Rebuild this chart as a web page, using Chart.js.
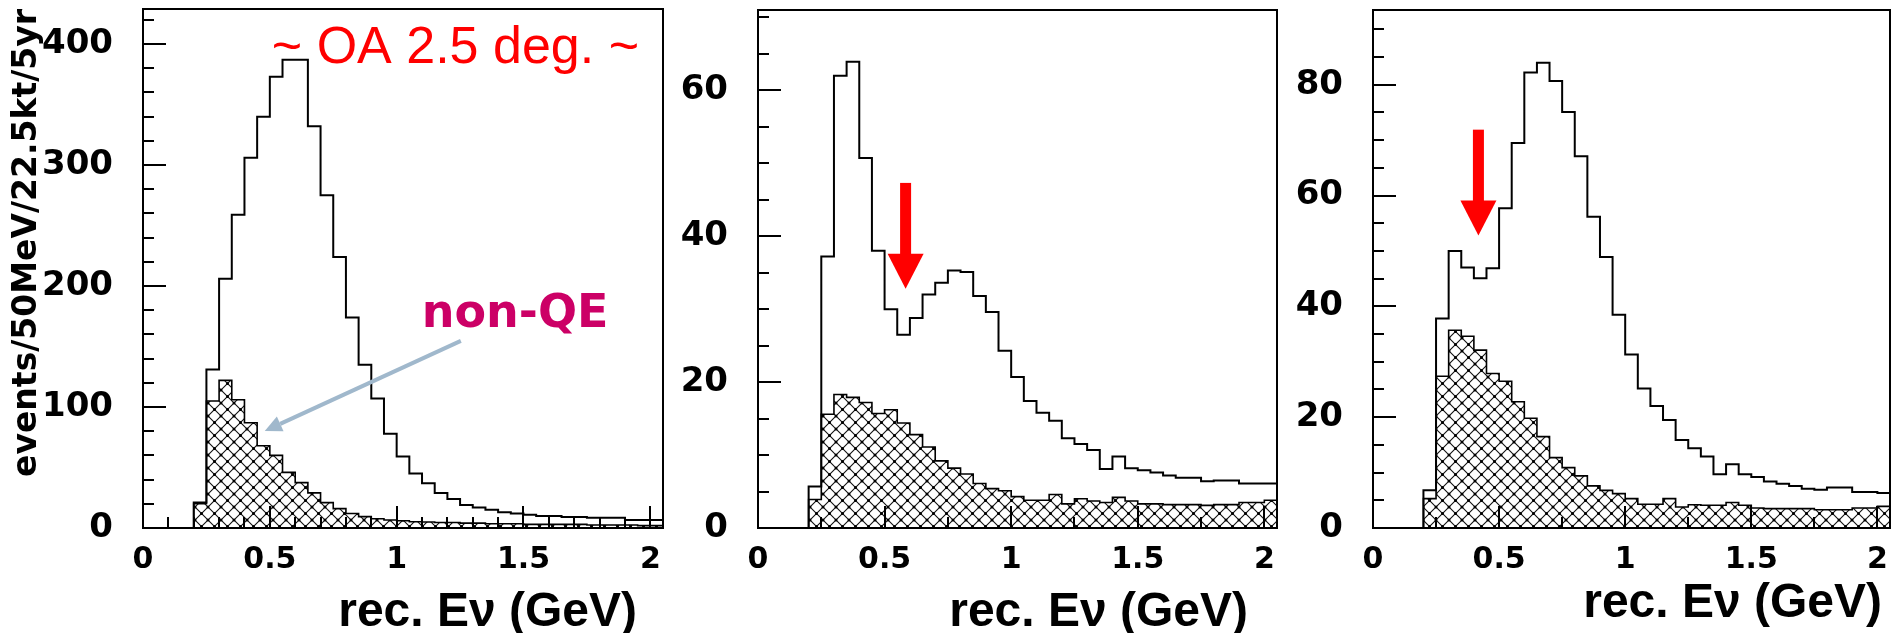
<!DOCTYPE html>
<html>
<head>
<meta charset="utf-8">
<script src="https://cdn.jsdelivr.net/npm/chart.js@4.4.1/dist/chart.umd.min.js"></script>
<style>
  body { margin: 0; background: #fff; }
  #wrap { position: relative; width: 1895px; height: 633px; overflow: hidden; }
  #wrap canvas { position: absolute; top: 0; }
</style>
</head>
<body>
<div id="wrap">
  <canvas id="c1" width="680" height="633" style="left:0px"></canvas>
  <canvas id="c2" width="600" height="633" style="left:680px"></canvas>
  <canvas id="c3" width="615" height="633" style="left:1280px"></canvas>
</div>
<script>
// bin edges, rec. E_nu in GeV (50 MeV bins)
const binEdges = [0.20, 0.25, 0.30, 0.35, 0.40, 0.45, 0.50, 0.55, 0.60, 0.65, 0.70, 0.75, 0.80, 0.85, 0.90, 0.95,
                  1.00, 1.05, 1.10, 1.15, 1.20, 1.25, 1.30, 1.35, 1.40, 1.45, 1.50, 1.55, 1.60, 1.65, 1.70, 1.75,
                  1.80, 1.85, 1.90, 1.95, 2.00, 2.05];

// panel 1 (OA 2.5 deg)
const total1 = [21, 131, 206, 259, 306, 340, 373, 387, 387, 332, 275, 224, 174, 135, 107, 78,
                59, 45, 37, 29, 24, 19, 17, 15, 13, 12, 11, 10, 10, 9, 9, 8.5, 8.5, 8.5, 6.6, 6.6, 6.6];
const nonQE1 = [20, 105, 122, 106, 87, 68, 60, 46, 37.5, 29, 21, 16, 12, 9.4, 7.7, 6.6,
                6, 5.2, 5, 4.5, 4.5, 4, 4, 3.5, 3.5, 3.5, 3, 3, 3, 3, 3, 2.5, 2.5, 2.5, 2.5, 2, 2];

// panel 2
const total2 = [5.7, 37.2, 62, 63.9, 50.7, 38, 30, 26.5, 28.8, 32, 33.6, 35.3, 35.1, 31.8, 29.6, 24.3,
                20.7, 17.4, 15.8, 14.7, 12.3, 11.5, 10.7, 8.1, 9.8, 8.2, 7.9, 7.6, 7.2, 6.9, 6.9, 6.4,
                6.5, 6.5, 6.1, 6.1, 6.1];
const nonQE2 = [3.9, 15.6, 18.3, 17.9, 17.2, 15.7, 16.2, 14.4, 12.8, 11.1, 9.2, 8.2, 7.4, 6.1, 5.4, 5.1,
                4.3, 3.8, 3.8, 4.6, 3.3, 4.0, 3.7, 3.5, 4.2, 3.7, 3.3, 3.3, 3.2, 3.2, 3.2, 3.1,
                3.2, 3.2, 3.5, 3.5, 3.8];

// panel 3
const total3 = [6.8, 37.8, 50, 47, 45.1, 46.9, 57.7, 69.5, 82.2, 84, 80.7, 75.1, 67.1, 56.2, 48.9, 38.5,
                31.3, 25.2, 22, 19.5, 15.9, 14.4, 12.9, 9.7, 11.5, 9.7, 9.2, 8.4, 8.0, 7.6, 7.1, 6.9,
                7.3, 7.3, 6.5, 6.5, 6.3];
const nonQE3 = [5.3, 27.4, 35.7, 34.6, 32.1, 27.9, 26.5, 22.8, 19.8, 16.5, 12.7, 10.9, 9.4, 7.6, 6.8, 6.2,
                5.3, 4.3, 4.3, 5.3, 3.8, 4.2, 4.1, 4.1, 4.6, 4.1, 3.6, 3.5, 3.5, 3.5, 3.5, 3.3,
                3.3, 3.3, 3.6, 3.6, 3.9];

// tick labels
const xTicks = [0, 0.5, 1, 1.5, 2];
const xTickLabels = ['0', '0.5', '1', '1.5', '2'];
const yTicks1 = [0, 100, 200, 300, 400];
const yTicks2 = [0, 20, 40, 60];
const yTicks3 = [0, 20, 40, 60, 80];

const yTitle = 'events/50MeV/22.5kt/5yr';
const xTitle = 'rec. E\u03bd (GeV)';

Chart.defaults.font.family = '"DejaVu Sans", sans-serif';
Chart.defaults.color = '#000';

// histogram outline as step points: value of bin i runs from edge i to edge i+1
function histPoints(values) {
    const pts = [{ x: binEdges[0], y: 0 }];
    values.forEach((v, i) => pts.push({ x: binEdges[i], y: v }));
    pts.push({ x: binEdges[values.length], y: values[values.length - 1] });
    return pts;
}

function makeHatch() {
    const t = 13;
    const c = document.createElement('canvas');
    c.width = t; c.height = t;
    const g = c.getContext('2d');
    g.strokeStyle = '#111';
    g.lineWidth = 1.1;
    g.beginPath();
    g.moveTo(-1, -1); g.lineTo(t + 1, t + 1);
    g.moveTo(t + 1, -1); g.lineTo(-1, t + 1);
    g.stroke();
    g.fillStyle = '#000';
    [[0, 0], [t, 0], [0, t], [t, t], [t / 2, t / 2]].forEach(([px, py]) => {
        g.beginPath(); g.arc(px, py, 1.5, 0, Math.PI * 2); g.fill();
    });
    return g.createPattern(c, 'repeat');
}
const hatch = makeHatch();

// ROOT style frame, inward ticks and x title
const rootAxes = {
    id: 'rootAxes',
    afterDatasetsDraw(chart, args, o) {
        const { ctx, chartArea: a } = chart;
        const xs = chart.scales.x, ys = chart.scales.y;
        ctx.save();
        ctx.strokeStyle = '#000';
        ctx.lineWidth = 2;
        ctx.beginPath();
        for (let k = 0; k * o.yMinor <= ys.max + 1e-9; k++) {
            const v = k * o.yMinor;
            const major = Math.abs(v / o.yMajor - Math.round(v / o.yMajor)) < 1e-6;
            const py = Math.round(ys.getPixelForValue(v));
            ctx.moveTo(a.left, py);
            ctx.lineTo(a.left + (major ? 23 : 11), py);
        }
        for (let k = 0; k * o.xMinor <= xs.max + 1e-9; k++) {
            const v = k * o.xMinor;
            const major = Math.abs(v / 0.5 - Math.round(v / 0.5)) < 1e-6;
            const px = Math.round(xs.getPixelForValue(v));
            ctx.moveTo(px, a.bottom);
            ctx.lineTo(px, a.bottom - (major ? 22 : 11));
        }
        ctx.stroke();
        ctx.strokeRect(a.left, a.top, a.right - a.left, a.bottom - a.top);
        ctx.font = 'bold 48px "Liberation Sans"';
        ctx.fillStyle = '#000';
        ctx.textAlign = 'right';
        ctx.textBaseline = 'alphabetic';
        ctx.fillText(xTitle, a.right - o.titleInset, o.titleBaseline);
        ctx.restore();
    }
};

// text labels and arrows placed in data coordinates
const notes = {
    id: 'notes',
    afterDraw(chart, args, o) {
        const { ctx } = chart;
        const xs = chart.scales.x, ys = chart.scales.y;
        ctx.save();
        (o.texts || []).forEach(t => {
            ctx.font = t.font;
            ctx.fillStyle = t.color;
            ctx.textAlign = 'left';
            ctx.textBaseline = 'alphabetic';
            ctx.fillText(t.text, xs.getPixelForValue(t.x), ys.getPixelForValue(t.y));
        });
        (o.downArrows || []).forEach(d => {
            const px = xs.getPixelForValue(d.x);
            const top = ys.getPixelForValue(d.yTop);
            const base = ys.getPixelForValue(d.yBase);
            const tip = ys.getPixelForValue(d.yTip);
            ctx.fillStyle = '#ff0000';
            ctx.fillRect(px - 5.5, top, 11, base - top + 1);
            ctx.beginPath();
            ctx.moveTo(px - 18, base);
            ctx.lineTo(px + 18, base);
            ctx.lineTo(px, tip);
            ctx.closePath();
            ctx.fill();
        });
        (o.pointers || []).forEach(p => {
            const x0 = xs.getPixelForValue(p.x0), y0 = ys.getPixelForValue(p.y0);
            const x1 = xs.getPixelForValue(p.x1), y1 = ys.getPixelForValue(p.y1);
            const ang = Math.atan2(y1 - y0, x1 - x0);
            const hl = 17, hw = 8;
            const bx = x1 - hl * Math.cos(ang), by = y1 - hl * Math.sin(ang);
            ctx.strokeStyle = p.color;
            ctx.fillStyle = p.color;
            ctx.lineWidth = 4;
            ctx.beginPath();
            ctx.moveTo(x0, y0);
            ctx.lineTo(bx, by);
            ctx.stroke();
            ctx.beginPath();
            ctx.moveTo(x1, y1);
            ctx.lineTo(bx + hw * Math.sin(ang), by - hw * Math.cos(ang));
            ctx.lineTo(bx - hw * Math.sin(ang), by + hw * Math.cos(ang));
            ctx.closePath();
            ctx.fill();
        });
        ctx.restore();
    }
};

function makePanel(id, total, nonQE, p) {
    return new Chart(document.getElementById(id), {
        type: 'line',
        data: {
            datasets: [
                {
                    label: 'all',
                    data: histPoints(total),
                    stepped: 'before',
                    borderColor: '#000',
                    borderWidth: 2,
                    pointRadius: 0,
                    fill: false
                },
                {
                    label: 'non-QE',
                    data: histPoints(nonQE),
                    stepped: 'before',
                    borderColor: '#000',
                    borderWidth: 1.6,
                    backgroundColor: hatch,
                    pointRadius: 0,
                    fill: 'origin'
                }
            ]
        },
        options: {
            responsive: false,
            animation: false,
            events: [],
            layout: { padding: { left: 0, right: p.padRight, top: p.padTop, bottom: 0 } },
            scales: {
                x: {
                    type: 'linear',
                    min: 0,
                    max: 2.05,
                    grid: { display: false, drawTicks: false },
                    border: { display: false },
                    ticks: {
                        padding: 14,
                        font: { size: 30, weight: 'bold' },
                        color: '#000',
                        callback: (v, i) => xTickLabels[i]
                    },
                    afterBuildTicks: s => { s.ticks = xTicks.map(v => ({ value: v })); },
                    afterFit: s => { s.height = 105; s.paddingLeft = 0; s.paddingRight = 0; }
                },
                y: {
                    type: 'linear',
                    min: 0,
                    max: p.yMax,
                    grid: { display: false, drawTicks: false },
                    border: { display: false },
                    ticks: { padding: 30, font: { size: 34, weight: 'bold' }, color: '#000' },
                    title: {
                        display: !!p.yTitle,
                        text: p.yTitle || '',
                        align: 'end',
                        padding: { top: 8, bottom: 0 },
                        font: { size: 33, weight: 'bold' },
                        color: '#000'
                    },
                    afterBuildTicks: s => { s.ticks = p.yTicks.map(v => ({ value: v })); },
                    afterFit: s => { s.width = p.yWidth; s.paddingTop = 0; s.paddingBottom = 0; }
                }
            },
            plugins: {
                legend: { display: false },
                tooltip: { enabled: false },
                rootAxes: {
                    yMinor: p.yMinor, yMajor: p.yMajor, xMinor: p.xMinor,
                    titleInset: p.titleInset, titleBaseline: p.titleBaseline
                },
                notes: p.notes
            }
        },
        plugins: [rootAxes, notes]
    });
}

makePanel('c1', total1, nonQE1, {
    yMax: 429, yTicks: yTicks1, yMajor: 100, yMinor: 20, xMinor: 0.1,
    yWidth: 143, padRight: 17, padTop: 9, yTitle: yTitle,
    titleInset: 26, titleBaseline: 626,
    notes: {
        texts: [
            { text: '~ OA 2.5 deg. ~', x: 0.508, y: 384.4, font: '52px "Liberation Sans"', color: '#ff0000' },
            { text: 'non-QE', x: 1.099, y: 166, font: 'bold 46px "DejaVu Sans"', color: '#cc0066' }
        ],
        pointers: [{ x0: 1.253, y0: 154.7, x1: 0.48, y1: 80.2, color: '#a0b8cc' }]
    }
});

makePanel('c2', total2, nonQE2, {
    yMax: 71, yTicks: yTicks2, yMajor: 20, yMinor: 5, xMinor: 0.25,
    yWidth: 78, padRight: 3, padTop: 10,
    titleInset: 29, titleBaseline: 626,
    notes: { downArrows: [{ x: 0.583, yTop: 47.3, yBase: 37.6, yTip: 32.8 }] }
});

makePanel('c3', total3, nonQE3, {
    yMax: 93.5, yTicks: yTicks3, yMajor: 20, yMinor: 5, xMinor: 0.25,
    yWidth: 93, padRight: 5, padTop: 10,
    titleInset: 8, titleBaseline: 617,
    notes: { downArrows: [{ x: 0.418, yTop: 71.9, yBase: 59.1, yTip: 52.8 }] }
});
</script>
</body>
</html>
